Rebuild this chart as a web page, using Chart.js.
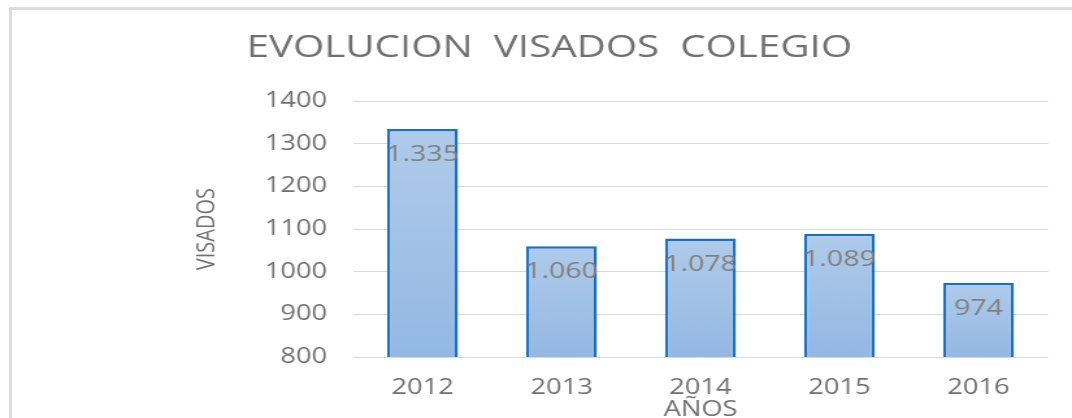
<!DOCTYPE html>
<html>
<head>
<meta charset="utf-8">
<script src="https://cdn.jsdelivr.net/npm/chart.js@4"></script>
<style>
  html, body { margin: 0; padding: 0; background: #fff; overflow: hidden; }
  #marco {
    position: absolute; left: 9px; top: 7px; right: 0; bottom: -10px;
    border-top: 3px solid #dcdcdc; border-left: 3px solid #dcdcdc;
  }
  /* the reference is horizontally stretched, so the chart is drawn narrower and widened */
  #caja {
    position: absolute; left: 0; top: 0; width: 825px; height: 418px;
    transform: scaleX(1.29939); transform-origin: 0 0;
  }
</style>
</head>
<body>
<div id="marco"></div>
<div id="caja"><canvas id="chart"></canvas></div>
<script>
const anios = ["2012", "2013", "2014", "2015", "2016"];
const visados = [1335, 1060, 1078, 1089, 974];
const yMin = 800;
const yMax = 1400;
const yStep = 100;
const titulo = "EVOLUCION  VISADOS  COLEGIO";

function formato(v) {
    // Spanish thousands separator, also on 4 digits
    return String(v).replace(/\B(?=(\d{3})+(?!\d))/g, ".");
}

function degradado(c) {
    const chart = c.chart;
    if (!chart.chartArea || c.raw === undefined) return "#a3c2e6";
    const y = chart.scales.y;
    const g = chart.ctx.createLinearGradient(0, y.getPixelForValue(c.raw), 0, y.getPixelForValue(yMin));
    g.addColorStop(0, "#b0cbea");
    g.addColorStop(1, "#93b8e3");
    return g;
}

const etiquetas = {
    id: "etiquetas",
    afterDatasetsDraw(chart) {
        const ctx = chart.ctx;
        const meta = chart.getDatasetMeta(0);
        ctx.save();
        ctx.font = '22px "Open Sans"';
        ctx.fillStyle = "#808080";
        ctx.textAlign = "center";
        ctx.textBaseline = "middle";
        meta.data.forEach((bar, i) => {
            ctx.fillText(formato(visados[i]), bar.x, bar.y + 26);
        });
        ctx.restore();
    },
};

const gris = "#707070";

new Chart(document.getElementById("chart"), {
    type: "bar",
    data: {
        labels: anios,
        datasets: [
            {
                label: "VISADOS",
                data: visados,
                backgroundColor: degradado,
                borderColor: "#1a70c1",
                borderWidth: 2.5,
                borderSkipped: false,
                barPercentage: 0.51,
                categoryPercentage: 1,
            },
        ],
    },
    options: {
        responsive: true,
        maintainAspectRatio: false,
        animation: false,
        layout: { padding: { left: 39, right: 18.5, top: 0, bottom: 0 } },
        plugins: {
            legend: { display: false },
            tooltip: { enabled: false },
            title: {
                display: true,
                text: titulo,
                color: gris,
                font: { family: "Open Sans", size: 31, weight: "normal", lineHeight: 1.2 },
                padding: { top: 30, bottom: 34 },
            },
        },
        scales: {
            x: {
                grid: { display: false },
                border: { display: false },
                ticks: { color: gris, font: { family: "Open Sans", size: 21 }, padding: 10 },
                title: {
                    display: true,
                    text: "AÑOS",
                    color: gris,
                    font: { family: "Open Sans", size: 21, lineHeight: 0.8 },
                    padding: 0,
                },
                afterFit: (s) => { s.height = 61; },
            },
            y: {
                min: yMin,
                max: yMax,
                border: { display: false },
                grid: { color: "#d9d9d9", lineWidth: 1, drawTicks: false },
                ticks: {
                    stepSize: yStep,
                    color: gris,
                    font: { family: "Open Sans", size: 21 },
                    padding: 20,
                    callback: (v) => String(v),
                },
                title: {
                    display: true,
                    text: "VISADOS",
                    color: gris,
                    font: { family: "Open Sans", size: 20, lineHeight: 1.2 },
                    padding: { top: 108, bottom: 0 },
                },
                afterFit: (s) => { s.width = 232.7; },
            },
        },
    },
    plugins: [etiquetas],
});
</script>
</body>
</html>
